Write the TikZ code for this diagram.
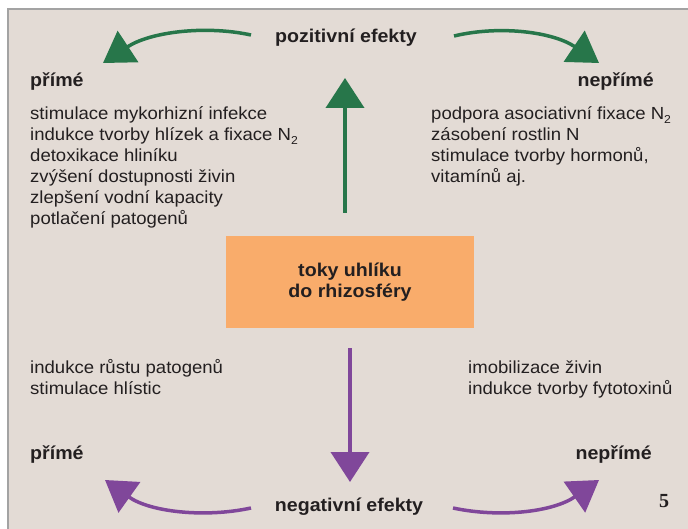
\documentclass[tikz,border=0pt]{standalone}
\usepackage{fontspec}
\setmainfont{Liberation Sans}[FakeStretch=1.06]
\newfontfamily\numfont{Liberation Serif}
\usetikzlibrary{arrows.meta}
\definecolor{bgbeige}{HTML}{E3DBD5}
\definecolor{framegrey}{HTML}{A3A3A3}
\definecolor{posgreen}{HTML}{27764A}
\definecolor{negpurple}{HTML}{80479A}
\definecolor{boxorange}{HTML}{F9AC6B}
\definecolor{txt}{HTML}{231F20}
\newcommand{\subtwo}{\raisebox{-4pt}{\fontsize{11.5}{11.5}\selectfont 2}}
\tikzset{
  listtext/.style={anchor=base west, inner sep=0pt, align=left, text=txt,
    font=\fontsize{17.5}{21}\selectfont},
  headtext/.style={anchor=base, inner sep=0pt, text=txt,
    font=\fontsize{18.5}{21}\selectfont\bfseries},
  sidehead/.style={inner sep=0pt, text=txt,
    font=\fontsize{18.5}{21}\selectfont\bfseries},
  bigarrow/.style={line width=4pt, -{Triangle[length=30pt,width=38pt]}},
  curvearrow/.style={line width=3.5pt, -{Triangle[length=30pt,width=37pt]}},
}
\begin{document}
\begin{tikzpicture}[x=1pt,y=-1pt]
\useasboundingbox (0,0) rectangle (688,529);
\fill[white] (0,0) rectangle (688,529);
\fill[bgbeige] (8,9) rectangle (688,529);
\draw[framegrey, line width=2pt] (8,529) -- (8,9) -- (688,9);

% central box
\node[fill=boxorange, minimum width=248pt, minimum height=92pt, inner sep=0pt,
  align=center, text=txt, font=\fontsize{18.5}{21}\selectfont\bfseries]
  (box) at (350,282) {toky uhlíku\\do rhizosféry};

% headings
\node[headtext] (pos) at (346,43) {pozitivní efekty};
\node[headtext] (neg) at (349,511) {negativní efekty};

\node[sidehead, anchor=base west] (ptl) at (30,87) {přímé};
\node[sidehead, anchor=base east] (ptr) at (654,87) {nepřímé};
\node[sidehead, anchor=base west] (pbl) at (30,459) {přímé};
\node[sidehead, anchor=base east] (pbr) at (652,459) {nepřímé};

% lists (base anchor = baseline of the last line)
\node[listtext] (ll) at (30,225) {stimulace mykorhizní infekce\\
indukce tvorby hlízek a fixace N\subtwo\\
detoxikace hliníku\\
zvýšení dostupnosti živin\\
zlepšení vodní kapacity\\
potlačení patogenů};
\node[listtext] (rl) at (431,183) {podpora asociativní fixace N\subtwo\\
zásobení rostlin N\\
stimulace tvorby hormonů,\\
vitamínů aj.};
\node[listtext] (lbl) at (30,394) {indukce růstu patogenů\\
stimulace hlístic};
\node[listtext] (lbr) at (468,394) {imobilizace živin\\
indukce tvorby fytotoxinů};

\node[anchor=base, inner sep=0pt, text=txt, font=\numfont\fontsize{20}{21}\selectfont\bfseries]
  (num) at (664,507) {5};

% arrow ends
\coordinate (gvs) at (345,213);
\coordinate (gvt) at (345,78);
\coordinate (pvs) at (350,348);
\coordinate (pvt) at (350,482);
\coordinate (gls) at (251,35);
\coordinate (glt) at (103,63);
\coordinate (grs) at (454,36);
\coordinate (grt) at (599,63);
\coordinate (pls) at (251,508);
\coordinate (plt) at (105,480);
\coordinate (prs) at (453,508);
\coordinate (prt) at (599,480);

\draw[posgreen, bigarrow] (gvs) -- (gvt);
\draw[negpurple, bigarrow] (pvs) -- (pvt);

\draw[posgreen, curvearrow] (gls) .. controls (205,25) and (150,32) .. (glt);
\draw[posgreen, curvearrow] (grs) .. controls (500,25) and (553,32) .. (grt);
\draw[negpurple, curvearrow] (pls) .. controls (205,518) and (150,512) .. (plt);
\draw[negpurple, curvearrow] (prs) .. controls (500,518) and (553,512) .. (prt);
\end{tikzpicture}
\end{document}
